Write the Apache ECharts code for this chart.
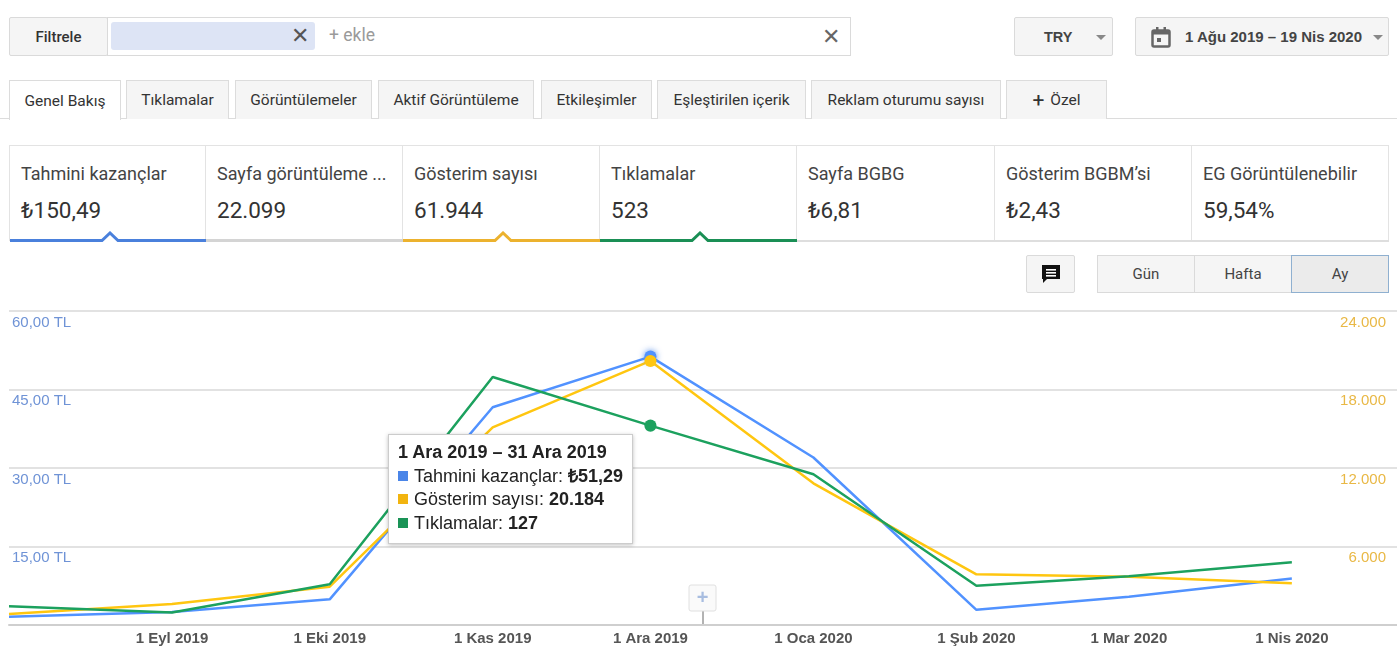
<!DOCTYPE html>
<html>
<head>
<meta charset="utf-8">
<script src="https://cdn.jsdelivr.net/npm/echarts@6/dist/echarts.min.js"></script>
<style>
body{margin:0;width:1397px;height:655px;position:relative;overflow:hidden;background:#fff;font-family:Roboto,Arial,sans-serif;color:#333}
.a{position:absolute;box-sizing:border-box}
.btn{background:#f5f5f5;border:1px solid #dadada;border-radius:2px;display:flex;align-items:center;justify-content:center}
.tab{top:80px;height:39px;background:#f5f5f5;border:1px solid #dcdcdc;border-bottom:none;font-size:15.5px;color:#333;display:flex;align-items:center;justify-content:center}
.tab.on{background:#fff;height:40px;z-index:2}
.card{top:145px;height:96px;border-top:1px solid #e3e3e3;border-right:1px solid #e3e3e3}
.card .t{position:absolute;left:11px;top:17px;font-size:18px;color:#444;white-space:nowrap}
.card .v{position:absolute;left:11px;top:51px;font-size:22.5px;color:#333}
.card svg{position:absolute;left:0;top:85px}
.seg{top:255px;height:38px;background:#f5f5f5;border:1px solid #dadada;font-size:15px;color:#444;display:flex;align-items:center;justify-content:center}
.arr{position:absolute;width:0;height:0;border-left:5px solid transparent;border-right:5px solid transparent;border-top:5px solid #888}
</style>
</head>
<body>
<!-- filtre satırı -->
<div class="a btn" style="left:9px;top:17px;width:99px;height:39px;font-size:15px;font-weight:500;color:#333">Filtrele</div>
<div class="a" style="left:107px;top:17px;width:744px;height:39px;border:1px solid #dadada;background:#fff"></div>
<div class="a" style="left:111px;top:22px;width:204px;height:28px;background:#dde4f5;border-radius:3px"></div>
<div class="a" style="left:291px;top:22px;font-size:22px;color:#555;line-height:28px">&#x2715;</div>
<div class="a" style="left:329px;top:25px;font-size:17.5px;color:#9a9a9a">+ ekle</div>
<div class="a" style="left:822px;top:23px;font-size:22px;color:#666;line-height:28px">&#x2715;</div>
<div class="a btn" style="left:1014px;top:17px;width:99px;height:39px;font-family:Arial,'Liberation Sans';font-weight:bold;font-size:14.5px;color:#444;justify-content:flex-start;padding-left:29px">TRY<span class="arr" style="left:81px;top:17px"></span></div>
<div class="a btn" style="left:1135px;top:17px;width:254px;height:39px;font-family:Arial,'Liberation Sans';font-weight:bold;font-size:15px;color:#444;justify-content:flex-start;padding-left:49px">
  <svg style="position:absolute;left:15px;top:9px" width="20" height="21" viewBox="0 0 20 21"><rect x="1.5" y="3.5" width="17" height="16" rx="1.5" fill="none" stroke="#666" stroke-width="2.5"/><rect x="1.5" y="3.5" width="17" height="4" fill="#666"/><rect x="5" y="0" width="2.5" height="5" fill="#666"/><rect x="12.5" y="0" width="2.5" height="5" fill="#666"/><rect x="6" y="11" width="4" height="4" fill="#666"/></svg>
  1 Ağu 2019 – 19 Nis 2020<span class="arr" style="left:237px;top:17px"></span></div>

<!-- sekmeler -->
<div class="a" style="left:0;top:118px;width:1397px;height:1px;background:#dcdcdc"></div>
<div class="a tab on" style="left:9px;width:112px">Genel Bakış</div>
<div class="a tab" style="left:126px;width:103px">Tıklamalar</div>
<div class="a tab" style="left:235px;width:137px">Görüntülemeler</div>
<div class="a tab" style="left:378px;width:156px">Aktif Görüntüleme</div>
<div class="a tab" style="left:541px;width:111px">Etkileşimler</div>
<div class="a tab" style="left:657px;width:149px">Eşleştirilen içerik</div>
<div class="a tab" style="left:811px;width:190px">Reklam oturumu sayısı</div>
<div class="a tab" style="left:1006px;width:101px"><span style="font-size:21px;margin-right:6px;line-height:14px">+</span>Özel</div>

<!-- metrik kartları -->
<div id="cards"></div>

<!-- sağ butonlar -->
<div class="a btn" style="left:1026px;top:255px;width:49px;height:38px">
  <svg width="22" height="22" viewBox="0 0 22 22"><path d="M2 2h18v14H7l-4 4v-4H2z" fill="#111"/><rect x="6" y="6" width="10" height="1.6" fill="#fff"/><rect x="6" y="9" width="10" height="1.6" fill="#fff"/><rect x="6" y="12" width="10" height="1.6" fill="#fff"/></svg>
</div>
<div class="a seg" style="left:1097px;width:98px">Gün</div>
<div class="a seg" style="left:1194px;width:98px">Hafta</div>
<div class="a seg" style="left:1291px;width:98px;background:#ebebeb;border:1px solid #8fb0d0">Ay</div>

<div id="chart" class="a" style="left:0;top:300px;width:1397px;height:355px"></div>

<script>
// kart başlıkları ve değerleri
var cardTitles = ['Tahmini kazançlar', 'Sayfa görüntüleme ...', 'Gösterim sayısı', 'Tıklamalar', 'Sayfa BGBG', 'Gösterim BGBM’si', 'EG Görüntülenebilir'];
var cardValues = ['₺150,49', '22.099', '61.944', '523', '₺6,81', '₺2,43', '59,54%'];
var cardLines = ['#4a80dc', '#d4d4d4', '#ecb22e', '#1a8f55', null, null, null];
var cardCaret = [true, false, true, true, false, false, false];

// grafik verisi (aylık)
var monthNames = ['Oca', 'Şub', 'Mar', 'Nis', 'May', 'Haz', 'Tem', 'Ağu', 'Eyl', 'Eki', 'Kas', 'Ara'];
var periodStarts = ['2019-08-01', '2019-09-01', '2019-10-01', '2019-11-01', '2019-12-01', '2020-01-01', '2020-02-01', '2020-03-01', '2020-04-01'];
var earnings = [1.6, 2.5, 4.9, 41.6, 51.29, 32.0, 2.9, 5.4, 8.9];
var impressions = [850, 1600, 2930, 15100, 20184, 10830, 3875, 3695, 3190];
var clicks = [12, 8, 26, 158, 127, 96, 25, 31, 40];
var xLabelDates = ['2019-09-01', '2019-10-01', '2019-11-01', '2019-12-01', '2020-01-01', '2020-02-01', '2020-03-01', '2020-04-01'];
var rangeStart = '2019-08-01', rangeEnd = '2020-04-21';
var annotations = ['2019-12-11'];
var selectedIndex = 4;

function d(s) {
	var p = s.split('-');
	return new Date(+p[0], +p[1] - 1, +p[2]).getTime();
}
function money(v) { return v.toFixed(2).replace('.', ','); }
function thousands(v) { return String(Math.round(v)).replace(/\B(?=(\d{3})+(?!\d))/g, '.'); }

// kartlar
var html = '';
var left = 9, w = 197.1;
for (var i = 0; i < cardTitles.length; i++) {
	var x = Math.round(left + i * w), cw = Math.round(left + (i + 1) * w) - x;
	var line = '';
	if (cardLines[i] && cardCaret[i]) {
		var c = Math.round(cw / 2) + 1;
		line = '<svg width="' + cw + '" height="12"><polyline points="0,9.5 ' + (c - 8) + ',9.5 ' + c + ',2 ' + (c + 8) + ',9.5 ' + cw + ',9.5" fill="none" stroke="' + cardLines[i] + '" stroke-width="3"/></svg>';
	} else if (cardLines[i]) {
		line = '<svg width="' + cw + '" height="12"><line x1="0" x2="' + cw + '" y1="9.5" y2="9.5" stroke="' + cardLines[i] + '" stroke-width="3"/></svg>';
	} else {
		line = '<svg width="' + cw + '" height="12"><line x1="0" x2="' + cw + '" y1="10" y2="10" stroke="#dedede" stroke-width="2"/></svg>';
	}
	html += '<div class="a card" style="left:' + x + 'px;width:' + cw + 'px;' + (i === 0 ? 'border-left:1px solid #e3e3e3;' : '') + '">' +
		'<div class="t">' + cardTitles[i] + '</div><div class="v">' + cardValues[i] + '</div>' + line + '</div>';
}
document.getElementById('cards').innerHTML = html;

var xs = periodStarts.map(d);
function pairs(arr) { return arr.map(function (v, i) { return [xs[i], v]; }); }
function dotSize(v, p) { return p.dataIndex === selectedIndex ? 11 : 0; }

var myChart = echarts.init(document.getElementById('chart'));
var option = {
	animation: false,
	grid: { left: 9, right: 0, top: 11, bottom: 30 },
	tooltip: {
		trigger: 'axis',
		triggerOn: 'none',
		alwaysShowContent: true,
		axisPointer: { type: 'none' },
		position: [388, 134],
		backgroundColor: '#fff',
		borderColor: '#cccccc',
		borderWidth: 1,
		padding: [6, 9, 8, 9],
		extraCssText: 'box-shadow:0 1px 4px rgba(0,0,0,0.25);border-radius:0;line-height:23.5px;',
		textStyle: { fontFamily: 'Arial, "Liberation Sans", sans-serif', fontSize: 18, color: '#222' },
		formatter: function (params) {
			var s = new Date(params[0].value[0]);
			var e = new Date(s.getFullYear(), s.getMonth() + 1, 0);
			var out = '<b>' + s.getDate() + ' ' + monthNames[s.getMonth()] + ' ' + s.getFullYear() + ' – ' +
				e.getDate() + ' ' + monthNames[e.getMonth()] + ' ' + e.getFullYear() + '</b>';
			params.forEach(function (p) {
				var v = p.value[1];
				var txt = p.seriesIndex === 0 ? '₺' + money(v) : thousands(v);
				out += '<br><span style="display:inline-block;width:10px;height:10px;background:' + p.color + ';margin:0 6px 1px 0"></span>' + p.seriesName + ': <b>' + txt + '</b>';
			});
			return out;
		}
	},
	xAxis: {
		type: 'value',
		min: d(rangeStart),
		max: d(rangeEnd),
		axisLine: { lineStyle: { color: '#cfcfcf', width: 2 } },
		axisTick: { show: false },
		splitLine: { show: false },
		axisLabel: {
			customValues: xLabelDates.map(d),
			margin: 6,
			color: '#555',
			fontSize: 15,
			fontWeight: 'bold',
			fontFamily: 'Arial, "Liberation Sans", sans-serif',
			formatter: function (v) {
				var t = new Date(v);
				return t.getDate() + ' ' + monthNames[t.getMonth()] + ' ' + t.getFullYear();
			}
		}
	},
	yAxis: [{
		type: 'value', min: 0, max: 60, interval: 15,
		axisLine: { show: false }, axisTick: { show: false },
		splitLine: { lineStyle: { color: '#e2e2e2', width: 2 } },
		axisLabel: {
			inside: true, showMinLabel: false, margin: 3, verticalAlign: 'top', padding: [4, 0, 0, 0],
			color: '#6f93d6', fontSize: 15, fontFamily: 'Arial, "Liberation Sans", sans-serif',
			formatter: function (v) { return money(v) + ' TL'; }
		}
	}, {
		type: 'value', min: 0, max: 24000, interval: 6000, position: 'right',
		axisLine: { show: false }, axisTick: { show: false }, splitLine: { show: false },
		axisLabel: {
			inside: true, showMinLabel: false, margin: 11, verticalAlign: 'top', padding: [4, 0, 0, 0],
			color: '#e9b845', fontSize: 15, fontFamily: 'Arial, "Liberation Sans", sans-serif',
			formatter: function (v) { return thousands(v); }
		}
	}, {
		type: 'value', min: 0, max: 200, show: false
	}],
	series: [{
		name: 'Tahmini kazançlar',
		type: 'line',
		yAxisIndex: 0,
		data: pairs(earnings),
		color: '#4a85e8',
		symbol: 'circle',
		symbolSize: dotSize,
		lineStyle: { width: 2.5 },
		itemStyle: { shadowBlur: 6, shadowColor: 'rgba(74,133,232,0.9)' }
	}, {
		name: 'Gösterim sayısı',
		type: 'line',
		yAxisIndex: 1,
		data: pairs(impressions),
		color: '#f2b40f',
		symbol: 'circle',
		symbolSize: dotSize,
		lineStyle: { width: 2.5 }
	}, {
		name: 'Tıklamalar',
		type: 'line',
		yAxisIndex: 2,
		data: pairs(clicks),
		color: '#1a9356',
		symbol: 'circle',
		symbolSize: dotSize,
		lineStyle: { width: 2.5 }
	}]
};
myChart.setOption(option);

// not ekleme işareti
var ax = myChart.convertToPixel({ xAxisIndex: 0 }, d(annotations[0]));
var base = myChart.convertToPixel({ yAxisIndex: 0 }, 0);
myChart.setOption({
	graphic: [{
		type: 'line', shape: { x1: ax, y1: base - 14, x2: ax, y2: base }, style: { stroke: '#666', lineWidth: 1 }
	}, {
		type: 'rect', shape: { x: ax - 14, y: base - 40, width: 27, height: 26, r: 2 },
		style: { fill: '#fafafa', stroke: '#e0e0e0', lineWidth: 1 }
	}, {
		type: 'text', x: ax - 0.5, y: base - 27,
		style: { text: '+', fill: '#a8bde0', font: 'bold 20px Arial', align: 'center', verticalAlign: 'middle' }
	}]
});

myChart.dispatchAction({ type: 'showTip', seriesIndex: 0, dataIndex: selectedIndex });
</script>
</body>
</html>
